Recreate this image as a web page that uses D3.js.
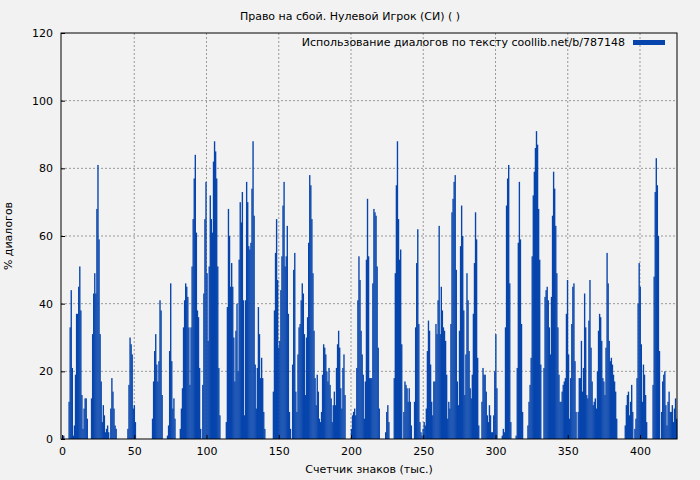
<!DOCTYPE html>
<html>
<head>
<meta charset="utf-8">
<script src="https://cdn.jsdelivr.net/npm/d3@7"></script>
<style>
  body { margin: 0; background: #f2f2f2; }
  svg { font-family: "DejaVu Sans", sans-serif; }
</style>
</head>
<body>
<svg id="chart" width="700" height="480"></svg>
<script>
// dialogue share (%) per thousand characters left to right
const seg1 = [1,1,0,0,0,0,11,33,44,21,1,4,19,37,37,45,51,38,13,3,9,12,12,6,0,0,0,12,31,43,49,43,68,81,59,31,17,5,10,7,2,3,4,2,0,9,18,14,9,4,3,0,0,0,0,0,0,0,0,0,0,3,16,30,28,25,9,10,5,0,0,0,0,0,0,0,0,0,0,0,0,0,0,0,6,17,26,31,22,17,23]
const seg2 = [41,38,13,0,0,0,0,1,4,26,46,23,9,12,6,0,0,0,0,3,9,15,33,41,46,45,42,33,16,33,51,65,77,84,61,38,36,21,3,0,16,43,65,76,49,29,51,72,65,61,82,88,85,77,51,21,7,0,0,0,0,0,5,39,68,60,45,52,45,30,17,32,40,20,53,70,64,73,41,7,41,76,70,57,56,58,74,88,66,22,9,21,39,31,18,24,18]
const seg3 = [8,3,0,0,0,0,0,0,0,14,38,55,65,47,27,29,44,54,69,76,51,54,63,37,8,3,0,22,50,55,14,8,25,33,34,41,46,43,31,13,30,36,58,78,75,65,49,32,18,10,19,14,6,5,8,19,28,27,25,20,17,21,16,12,5,10,14,10,21,28,32,27,15,9,21,25,13,0,0,0,0,0,3,7,8,9,7,21,41,54,47,32,25,19,6,17,53,71,54,18,18,18]
const seg4 = [46,68,67,66,51,27,9,0,0,0,0,0,2,8,10,5,0,0,0,0,18,49,75,88,65,53,56,28,0,8,17,16,15,11,15,11,4,0,0,11,33,52,62,34,5,2,1,3,5,4,9,26,35,32,22,11,7,17,17,34,31,41,63,31,45,38,33,32,29,19,6,11,9,34,67,71,76,78,50,17,10,32,57,69,60,38,13,25,49,41,26,15,12,19,37,52,67,59,24,4]
const seg5 = [0,0,11,21,19,19,14,7,5,10,7,2,2,7,20,31,15,0,0,0,0,1,3,2,33,69,77,81,46,5,0,0,0,0,1,21,58,76,59,34,8,0,0,0,0,4,11,16,24,54,72,79,86,91,87,68,53,22,0,0,21,42,44,45,41,33,25,42,66,79,74,63,49,33,19,11,11,14,16,17,18,37,47,25,6,18,34,45,46,23,8,0,8,18,18,29,14,21,43,33,13,12,35]
const seg6 = [47,27,17,10,11,12,9,20,32,37,36,29,18,17,13,27,55,46,29,23,24,22,19,17,14,6,0,0,0,0,0,0,0,4,10,13,14,7,11,16,8,0,3,6,18,40,52,45,28,11,22,19,13,5,0,0,0,0,0,16,48,73,83,75,60,26,0,8,17,19,20,10,4,11,14,8,8,10,5,9,12,6]
const values = [].concat(seg1, seg2, seg3, seg4, seg5, seg6)

const xTicks = [0, 50, 100, 150, 200, 250, 300, 350, 400]
const yTicks = [0, 20, 40, 60, 80, 100, 120]
const titleText = 'Право на сбой. Нулевой Игрок (СИ) ( )'
const legendText = 'Использование диалогов по тексту coollib.net/b/787148'

const plotLeft = 61, plotRight = 677, plotTop = 33, plotBottom = 439
const svg = d3.select('#chart')
svg.append('rect').attr('width', 700).attr('height', 480).attr('fill', '#f2f2f2')

const x = d3.scaleLinear([0, 425.6], [plotLeft + 1, plotRight])
const xb = d3.scaleBand(d3.range(values.length), [plotLeft + 1, plotRight]).padding(0)
const y = d3.scaleLinear([0, 120], [plotBottom, plotTop])

// grid
svg.append('g').selectAll('line').data(yTicks.slice(1, -1)).join('line')
   .attr('x1', plotLeft).attr('x2', plotRight)
   .attr('y1', d => y(d)).attr('y2', d => y(d))
   .attr('stroke', '#999').attr('stroke-dasharray', '2,2')
svg.append('g').selectAll('line').data(xTicks.slice(1)).join('line')
   .attr('x1', d => x(d)).attr('x2', d => x(d))
   .attr('y1', plotTop).attr('y2', plotBottom)
   .attr('stroke', '#999').attr('stroke-dasharray', '2,2')

// bars
svg.append('g').selectAll('rect').data(values).join('rect')
   .attr('x', (d, i) => xb(i))
   .attr('width', xb.bandwidth() + 0.3)
   .attr('y', d => y(d))
   .attr('height', d => plotBottom - y(d))
   .attr('fill', '#0745ad')

// frame
svg.append('rect').attr('x', plotLeft).attr('y', plotTop)
   .attr('width', plotRight - plotLeft).attr('height', plotBottom - plotTop)
   .attr('fill', 'none').attr('stroke', '#000')

// axes
svg.append('g').attr('transform', `translate(0,${plotBottom})`)
   .call(d3.axisBottom(x).tickValues(xTicks).tickSize(-4).tickPadding(8))
   .call(g => g.select('.domain').remove())
   .attr('font-size', 11).attr('font-family', 'DejaVu Sans')
svg.append('g').attr('transform', `translate(${plotLeft},0)`)
   .call(d3.axisLeft(y).tickValues(yTicks).tickSize(-4).tickPadding(8))
   .call(g => g.select('.domain').remove())
   .attr('font-size', 11).attr('font-family', 'DejaVu Sans')

svg.append('text').attr('x', 350).attr('y', 20).attr('text-anchor', 'middle')
   .attr('font-size', 11).text(titleText)
svg.append('text').attr('x', 369).attr('y', 473).attr('text-anchor', 'middle')
   .attr('font-size', 11).text('Счетчик знаков (тыс.)')
svg.append('text').attr('transform', 'translate(12,236) rotate(-90)')
   .attr('text-anchor', 'middle').attr('font-size', 11).text('% диалогов')

// legend
svg.append('text').attr('x', 625).attr('y', 46).attr('text-anchor', 'end')
   .attr('font-size', 11).text(legendText)
svg.append('rect').attr('x', 633).attr('y', 40).attr('width', 32).attr('height', 5)
   .attr('fill', '#0745ad')
</script>
</body>
</html>
